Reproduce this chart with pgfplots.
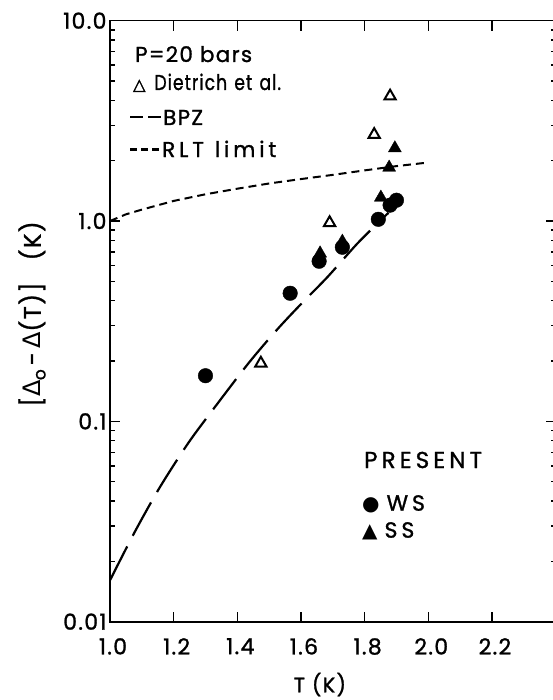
\documentclass[border=0pt]{standalone}
\usepackage{fontspec}
\setmainfont{Poppins}[FakeBold=1.2, LetterSpace=6]
\newfontfamily\dejavu{DejaVu Sans}
\newfontfamily\dejavub{DejaVu Sans}[FakeBold=2.5]
\newfontfamily\wide{Poppins}[FakeBold=1.2, LetterSpace=18]
\usepackage{pgfplots}
\pgfplotsset{compat=1.18}
\pgfplotstableread{
x y
1.000 0.0161
1.078 0.0281
1.157 0.0470
1.246 0.0780
1.328 0.1170
1.435 0.1950
1.524 0.2860
1.600 0.3850
1.684 0.5270
1.778 0.7750
1.862 1.0500
1.875 1.1000
}\bpz
\pgfplotstableread{
x y
1.00 1.00
1.05 1.08
1.10 1.14
1.20 1.26
1.30 1.36
1.40 1.45
1.50 1.54
1.60 1.62
1.70 1.70
1.80 1.79
1.90 1.88
2.00 1.96
}\rlt
\pgfplotstableread{
x y
1.474 0.195
1.690 0.98
1.830 2.70
1.880 4.20
}\dietrich
\pgfplotstableread{
x y
1.300 0.169
1.566 0.436
1.657 0.630
1.730 0.740
1.843 1.020
1.880 1.200
1.900 1.270
}\ws
\pgfplotstableread{
x y
1.660 0.690
1.730 0.790
1.851 1.310
1.877 1.850
1.895 2.310
}\ss
\newcommand{\dsh}[1]{\rule[6.5pt]{#1}{2.2pt}}
\begin{document}
\begin{tikzpicture}
\begin{axis}[
  at={(0pt,0pt)}, anchor=south west,
  scale only axis, width=445.6pt, height=601pt,
  xmin=1.0, xmax=2.4, ymode=log, ymin=0.01, ymax=10,
  axis line style={line width=1.6pt},
  tick align=inside,
  major tick length=10pt, minor tick length=5pt,
  every tick/.style={line width=1.4pt, black},
  xtick={1.0,1.2,1.4,1.6,1.8,2.0,2.2},
  xticklabels={1.0,1.2,1.4,1.6,1.8,2.0,2.2},
  ytick={0.01,0.1,1,10},
  yticklabels={0.01,0.1,1.0,10.0},
  minor ytick={0.02,0.03,0.04,0.05,0.06,0.07,0.08,0.09,0.2,0.3,0.4,0.5,0.6,0.7,0.8,0.9,2,3,4,5,6,7,8,9},
  tick label style={font=\fontsize{22}{22}\selectfont},
  xticklabel shift=13pt,
  xticklabel style={xshift=3pt},
  label style={font=\fontsize{21}{21}\selectfont},
  xlabel={T (K)},
  xlabel style={at={(axis description cs:0.471,-0.1045)},anchor=center, inner sep=0pt},
  ylabel={\fontsize{24}{24}\selectfont[{\dejavu Δ}\raisebox{-0.35ex}{\fontsize{17}{17}\selectfont o}\,-\,{\dejavu Δ}(T)]\hspace{22pt}(K)},
  ylabel style={at={(axis description cs:-0.175,0.512)},anchor=center, inner sep=0pt},
  clip=false,
]
\addplot[black, line width=2.2pt, dash pattern=on 38pt off 12pt, smooth] table[x=x,y=y]{\bpz};
\addplot[black, line width=2pt, dash pattern=on 8pt off 5pt] table[x=x,y=y]{\rlt};
\addplot[only marks, mark=triangle, mark size=6.5pt, mark options={line width=2pt, black, fill=white}] table[x=x,y=y]{\dietrich};
\addplot[only marks, mark=*, mark size=7.3pt, mark options={black, fill=black}] table[x=x,y=y]{\ws};
\addplot[only marks, mark=triangle*, mark size=7.5pt, mark options={black, fill=black}] table[x=x,y=y]{\ss};
\node[anchor=base west, inner sep=0pt, font=\fontsize{21.5}{21.5}\selectfont] at (rel axis cs:0.0561,0.9313) {P=20 bars};
\node[anchor=base west, inner sep=0pt, font=\fontsize{21.5}{21.5}\selectfont] at (rel axis cs:0.0516,0.8847) {{\dejavub\fontsize{16}{16}\selectfont △}\hspace{9pt}\scalebox{0.8}[1]{Dietrich\hspace{9pt}et\hspace{9pt}al.}};
\node[anchor=base west, inner sep=0pt, font=\fontsize{21.5}{21.5}\selectfont] at (rel axis cs:0.0449,0.8265) {\dsh{13pt}\hspace{5pt}\dsh{13pt}\hspace{2pt}BPZ};
\node[anchor=base west, inner sep=0pt, font=\fontsize{21.5}{21.5}\selectfont] at (rel axis cs:0.0449,0.7732) {\dsh{7pt}\hspace{4pt}\dsh{7pt}\hspace{4pt}\dsh{7pt}\hspace{3pt}{\wide RLT\hspace{11pt}limit}};
\node[anchor=base west, inner sep=0pt, font=\fontsize{23}{23}\selectfont\wide] at (rel axis cs:0.570,0.2557) {PRESENT};
\node[anchor=base west, inner sep=0pt, font=\fontsize{22}{22}\selectfont] at (rel axis cs:0.5655,0.1847) {{\dejavu\fontsize{20}{20}\selectfont ●}\hspace{7pt}{\wide WS}};
\node[anchor=base west, inner sep=0pt, font=\fontsize{22}{22}\selectfont] at (rel axis cs:0.5655,0.1398) {{\dejavu\fontsize{20}{20}\selectfont ▲}\hspace{7pt}{\wide SS}};
\end{axis}
\pgfresetboundingbox
\useasboundingbox (-110pt,-78.3pt) rectangle (442pt,621.7pt);
\end{tikzpicture}
\end{document}
